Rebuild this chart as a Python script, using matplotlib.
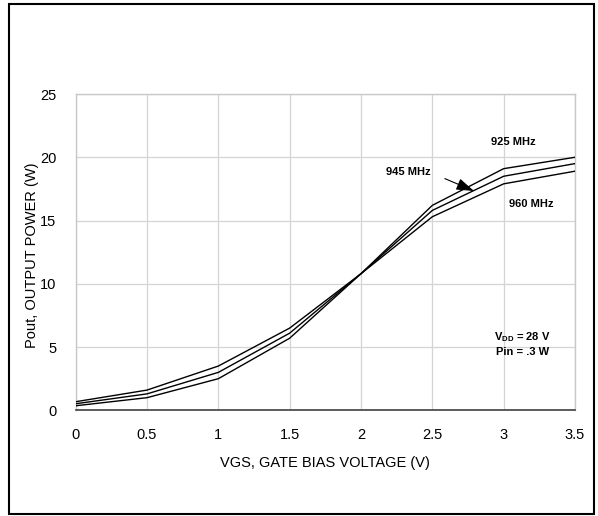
import matplotlib
matplotlib.use("Agg")
import matplotlib.pyplot as plt
from matplotlib.patches import Rectangle

plt.rcParams['font.family'] = ['Liberation Sans', 'DejaVu Sans']
plt.rcParams['mathtext.fontset'] = 'custom'
plt.rcParams['mathtext.rm'] = 'Liberation Sans'
plt.rcParams['mathtext.bf'] = 'Liberation Sans:bold'

# Gate bias voltage (V)
vgs = [0, 0.5, 1, 1.5, 2, 2.5, 3, 3.5]

# Output power (W) per frequency
pout_925 = [0.68, 1.6, 3.5, 6.5, 10.8, 16.2, 19.1, 20.0]
pout_945 = [0.52, 1.3, 3.0, 6.1, 10.8, 15.8, 18.5, 19.5]
pout_960 = [0.36, 1.0, 2.5, 5.7, 10.8, 15.3, 17.9, 18.9]

x_ticks = [0, 0.5, 1, 1.5, 2, 2.5, 3, 3.5]
x_tick_labels = ['0', '0.5', '1', '1.5', '2', '2.5', '3', '3.5']
y_ticks = [0, 5, 10, 15, 20, 25]

fig = plt.figure(figsize=(5.98, 5.16), dpi=100)
ax = fig.add_axes([0.1266, 0.2048, 0.8349, 0.6130])

for series in (pout_925, pout_945, pout_960):
    ax.plot(vgs, series, color='black', linewidth=1.0, zorder=3)

ax.set_xlim(0, 3.5)
ax.set_ylim(0, 25)
ax.set_xticks(x_ticks)
ax.set_xticklabels(x_tick_labels)
ax.set_yticks(y_ticks)
ax.tick_params(length=0, labelsize=10.5, colors='black')
ax.tick_params(axis='x', pad=13)
ax.tick_params(axis='y', pad=14)

ax.grid(True, color='#d4d4d4', linewidth=0.9)
ax.set_axisbelow(True)
for side in ('top', 'right', 'left'):
    ax.spines[side].set_color('#c8c8c8')
    ax.spines[side].set_linewidth(1.0)
ax.spines['bottom'].set_color('#404040')
ax.spines['bottom'].set_linewidth(1.2)

ax.set_xlabel('VGS, GATE BIAS VOLTAGE (V)', fontsize=10.5, labelpad=10)
ax.set_ylabel('Pout, OUTPUT POWER (W)', fontsize=10.5)
ax.yaxis.set_label_coords(-0.074, 0.49)

# Curve labels
ax.text(3.07, 21.2, '925 MHz', fontsize=8, fontweight='bold', ha='center', va='center')
ax.text(2.33, 18.8, '945 MHz', fontsize=8, fontweight='bold', ha='center', va='center')
ax.text(3.19, 16.3, '960 MHz', fontsize=8, fontweight='bold', ha='center', va='center')
ax.annotate('', xy=(2.81, 17.25), xytext=(2.57, 18.4),
            arrowprops=dict(arrowstyle='-|>,head_length=0.9,head_width=0.3',
                            color='black', lw=0.8, mutation_scale=12), zorder=4)

ax.text(3.13, 5.8, r'V$_{\mathbf{DD}}$ = 28 V', fontsize=8, fontweight='bold',
        ha='center', va='center')
ax.text(3.13, 4.6, 'Pin = .3 W', fontsize=8, fontweight='bold',
        ha='center', va='center')

# Outer frame
fig.patches.append(Rectangle((9 / 598, 2 / 516), 585 / 598, 510 / 516,
                             transform=fig.transFigure, fill=False,
                             edgecolor='black', linewidth=1.5))

plt.savefig('out.png', dpi=100)
